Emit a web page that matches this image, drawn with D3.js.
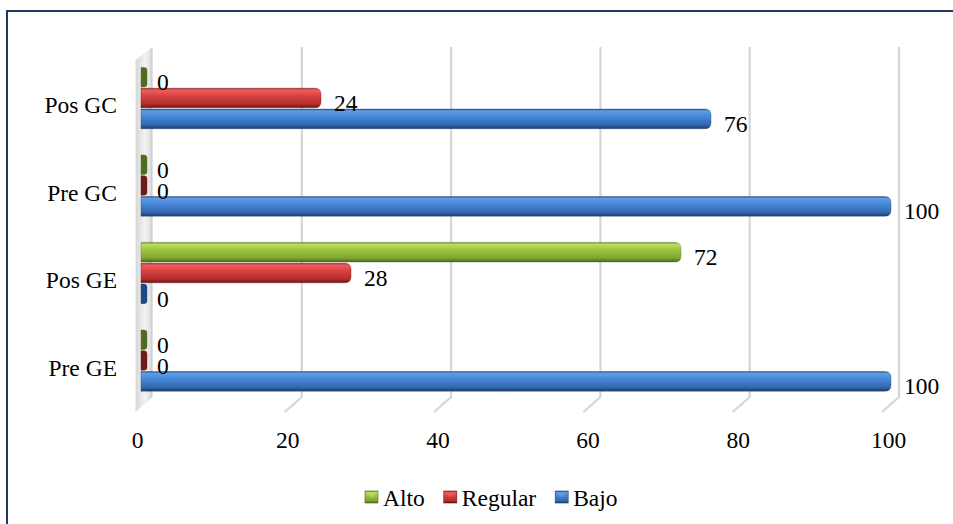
<!DOCTYPE html>
<html>
<head>
<meta charset="utf-8">
<script src="https://cdn.jsdelivr.net/npm/d3@7/dist/d3.min.js"></script>
<style>
  html, body { margin: 0; padding: 0; background: #fff; }
  svg { display: block; }
  svg text { font-family: "Liberation Serif", "DejaVu Serif", "Times New Roman", Times, serif; fill: #000; }
</style>
</head>
<body>
<svg id="chart" width="953" height="524"></svg>
<script>
// Categories, top to bottom
const categories = ["Pos GC", "Pre GC", "Pos GE", "Pre GE"];
// Series names (legend order, and bar order within a group, top to bottom)
const seriesNames = ["Alto", "Regular", "Bajo"];
const alto    = [0, 0, 72, 0];
const regular = [24, 0, 28, 0];
const bajo    = [76, 100, 0, 100];
const tickValues = [0, 20, 40, 60, 80, 100];

const seriesValues = [alto, regular, bajo];
const FONT = "'Liberation Serif', 'DejaVu Serif', 'Times New Roman', Times, serif";

const palette = {
  Alto:    { edge: "#6b8c2a", light: "#b9df60", mid: "#9cc440", dark: "#80a533", bottom: "#4b6818", zero: "#4f6d20" },
  Regular: { edge: "#9e2727", light: "#ef5d5d", mid: "#d94141", dark: "#b42f2f", bottom: "#6a1414", zero: "#6e1b1b" },
  Bajo:    { edge: "#2c5d9c", light: "#5e9de6", mid: "#4686d7", dark: "#3468b1", bottom: "#1c3d6b", zero: "#1f4a80" }
};

const svg = d3.select("#chart");
const defs = svg.append("defs");

// Vertical bar shading (cylinder look)
seriesNames.forEach(s => {
  const c = palette[s];
  const g = defs.append("linearGradient")
    .attr("id", "grad-" + s).attr("x1", 0).attr("y1", 0).attr("x2", 0).attr("y2", 1);
  [[0, c.edge], [0.1, c.light], [0.4, c.mid], [0.8, c.dark], [1, c.bottom]]
    .forEach(([o, col]) => g.append("stop").attr("offset", o).attr("stop-color", col));
});

// Side wall shading
const wg = defs.append("linearGradient").attr("id", "wall").attr("x1", 0).attr("y1", 0).attr("x2", 1).attr("y2", 0);
[[0, "#d6d6d6"], [0.55, "#f3f3f3"], [0.85, "#e2e2e2"], [1, "#c4c4c4"]]
  .forEach(([o, col]) => wg.append("stop").attr("offset", o).attr("stop-color", col));

// Outer frame (top and left edges)
svg.append("path")
  .attr("d", "M7,524 L7,11 L953,11")
  .attr("fill", "none").attr("stroke", "#1f3864").attr("stroke-width", 2);

// Scales
const xBack  = d3.scaleLinear().domain([0, 100]).range([152.5, 899]);
const xFront = d3.scaleLinear().domain([0, 100]).range([141, 891]);
const xLabel = d3.scaleLinear().domain([0, 100]).range([137, 888]);
const y = d3.scaleBand().domain(categories).range([54.25, 404.25]).paddingInner(0.3).paddingOuter(0.15);
const ySub = d3.scaleBand().domain(seriesNames).range([0, y.bandwidth()]).paddingInner(0.06);

const gridTop = 47, gridBottom = 397, depthX = 17, depthY = 15;

// Side wall
svg.append("path")
  .attr("d", `M${xBack(0) - depthX},${gridTop + 13} L${xBack(0)},${gridTop} L${xBack(0)},${gridBottom} L${xBack(0) - depthX},${gridBottom + depthY} Z`)
  .attr("fill", "url(#wall)");

// Gridlines on the back wall with the floor edge
svg.append("g").selectAll("path")
  .data(tickValues.filter(d => d > 0))
  .join("path")
  .attr("d", d => `M${xBack(d)},${gridTop} L${xBack(d)},${gridBottom} L${xBack(d) - depthX},${gridBottom + depthY}`)
  .attr("fill", "none").attr("stroke", "#d6d6d6").attr("stroke-width", 2.2);

// X axis tick labels
const xAxis = svg.append("g")
  .attr("transform", "translate(0,431)")
  .call(d3.axisBottom(xLabel).tickValues(tickValues).tickSize(0).tickPadding(0).tickFormat(d3.format("d")));
xAxis.attr("font-family", FONT).attr("font-size", 23.5);
xAxis.select(".domain").remove();
xAxis.selectAll("text")
  .style("font-family", FONT)
  .attr("font-size", 23.5).attr("fill", "#000").attr("dy", "0.71em");

// Category labels
svg.append("g").selectAll("text")
  .data(categories)
  .join("text")
  .attr("x", 117)
  .attr("y", d => y(d) + y.bandwidth() / 2 + 7)
  .attr("text-anchor", "end")
  .attr("dominant-baseline", "central")
  .style("font-family", FONT)
  .attr("font-size", 23.5)
  .text(d => d);

// Bar shape: flat on the left, rounded cap on the right
function barPath(x0, x1, y0, h) {
  const r = Math.min(6, (x1 - x0) / 2, h / 2);
  const p = d3.path();
  p.moveTo(x0, y0);
  p.lineTo(x1 - r, y0);
  p.quadraticCurveTo(x1, y0, x1, y0 + r);
  p.lineTo(x1, y0 + h - r);
  p.quadraticCurveTo(x1, y0 + h, x1 - r, y0 + h);
  p.lineTo(x0, y0 + h);
  p.closePath();
  return p.toString();
}

const barData = [];
categories.forEach((cat, i) => {
  seriesNames.forEach((s, j) => {
    barData.push({ cat, series: s, value: seriesValues[j][i] });
  });
});

const minCap = 6;
const bars = svg.append("g");
bars.selectAll("path")
  .data(barData)
  .join("path")
  .attr("d", d => {
    const x0 = xFront(0);
    const x1 = Math.max(xFront(d.value), x0 + minCap);
    return barPath(x0, x1, y(d.cat) + ySub(d.series), ySub.bandwidth());
  })
  .attr("fill", d => d.value === 0 ? palette[d.series].zero : `url(#grad-${d.series})`)
  .attr("stroke", d => palette[d.series].bottom)
  .attr("stroke-opacity", 0.45)
  .attr("stroke-width", 0.8);

// Value labels
svg.append("g").selectAll("text")
  .data(barData)
  .join("text")
  .attr("x", d => Math.max(xFront(d.value), xFront(0) + minCap) + (d.value === 0 ? 10 : 13))
  .attr("y", d => y(d.cat) + ySub(d.series) + ySub.bandwidth() / 2 + 5)
  .attr("dominant-baseline", "central")
  .style("font-family", FONT)
  .attr("font-size", 23.5)
  .text(d => d.value);

// Legend
const legend = svg.append("g").attr("transform", "translate(365,491)");
let lx = 0;
seriesNames.forEach(s => {
  const item = legend.append("g").attr("transform", `translate(${lx},0)`);
  item.append("rect")
    .attr("width", 13).attr("height", 12)
    .attr("fill", `url(#grad-${s})`)
    .attr("stroke", palette[s].bottom).attr("stroke-width", 0.6);
  item.append("path")
    .attr("d", "M1.5,1.5 L11.5,1.5 L6.5,6.5 Z")
    .attr("fill", palette[s].light).attr("opacity", 0.8);
  const t = item.append("text")
    .attr("x", 18).attr("y", 6.5)
    .attr("dominant-baseline", "central")
    .style("font-family", FONT)
    .attr("font-size", 23.5)
    .text(s);
  lx += 18 + t.node().getComputedTextLength() + 19;
});
</script>
</body>
</html>
